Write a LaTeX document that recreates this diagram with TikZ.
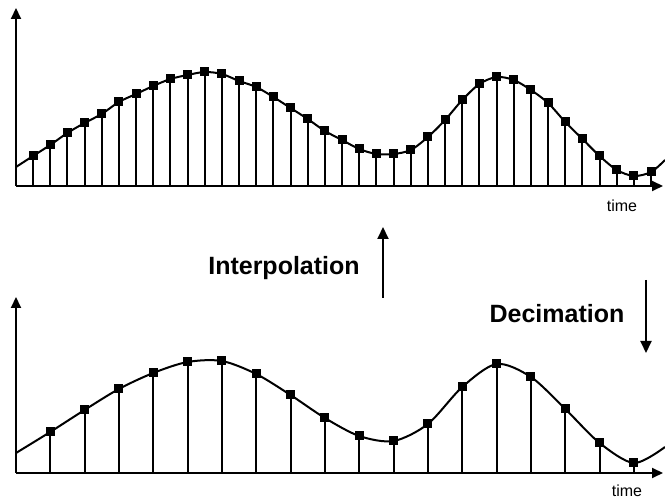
\documentclass[tikz,border=0pt]{standalone}
\usepackage{fontspec}
\setmainfont{Liberation Sans}
\usetikzlibrary{arrows.meta}

% sampled curve: heights above the time axis, one per fine sample
\def\heights{30,41,53,63,72,84,92,100,107,111,114,112,105,99,89,78,67,55,46,37,32,32,36,49,66,86,102,109,106,96,83,64,47,30,16,10,14}

\begin{document}
\begin{tikzpicture}[x=1pt, y=-1pt,
    axis/.style={line width=2pt, -{Triangle[length=11pt, width=10pt]}},
    stem/.style={line width=2pt},
    wave/.style={line width=2pt, line join=round},
    sample/.style={fill=black, inner sep=0pt, minimum size=9pt},
    optext/.style={font=\fontsize{25}{30}\selectfont\bfseries},
    timetext/.style={font=\fontsize{16}{19}\selectfont},
    arrow/.style={line width=2pt, -{Triangle[length=12pt, width=11pt]}}
  ]
  \useasboundingbox (0,0) rectangle (665,502);

  % axes
  \coordinate (o1) at (16,186);
  \coordinate (y1) at (16,8);
  \coordinate (x1) at (663,186);
  \coordinate (o2) at (16,473);
  \coordinate (y2) at (16,297);
  \coordinate (x2) at (663,473);
  \draw[axis] (o1) -- (y1);
  \draw[axis] (o1) -- (x1);
  \draw[axis] (o2) -- (y2);
  \draw[axis] (o2) -- (x2);

  % samples (top: all, bottom: every other one)
  \xdef\toppath{(16,167)}
  \xdef\botpath{(16,453)}
  \foreach \h [count=\i from 0] in \heights {
    \pgfmathsetmacro\sx{33+17.17*\i}
    \pgfmathsetmacro\ty{186-\h}
    \pgfmathsetmacro\by{473-\h}
    \coordinate (tb\i) at (\sx,186);
    \node[sample] (ts\i) at (\sx,\ty) {};
    \draw[stem] (tb\i) -- (ts\i.center);
    \xdef\toppath{\toppath (\sx,\ty)}
    \ifodd\i
      \coordinate (bb\i) at (\sx,473);
      \node[sample] (bs\i) at (\sx,\by) {};
      \draw[stem] (bb\i) -- (bs\i.center);
      \xdef\botpath{\botpath (\sx,\by)}
    \fi
  }
  \edef\drawwaves{%
    \noexpand\draw[wave] plot[smooth] coordinates {\toppath (665,160)};
    \noexpand\draw[wave] plot[smooth] coordinates {\botpath (665,447)};}
  \drawwaves

  \node[timetext, anchor=base] (time1) at (622,212) {time};
  \node[timetext, anchor=base] (time2) at (627,497) {time};

  % operations
  \node[optext, anchor=base] (interp) at (284,275) {Interpolation};
  \node[optext, anchor=base] (decim) at (557,323) {Decimation};
  \coordinate (up0) at (383,298);
  \coordinate (up1) at (383,227);
  \coordinate (dn0) at (646,280);
  \coordinate (dn1) at (646,353);
  \draw[arrow] (up0) -- (up1);
  \draw[arrow] (dn0) -- (dn1);
\end{tikzpicture}
\end{document}
